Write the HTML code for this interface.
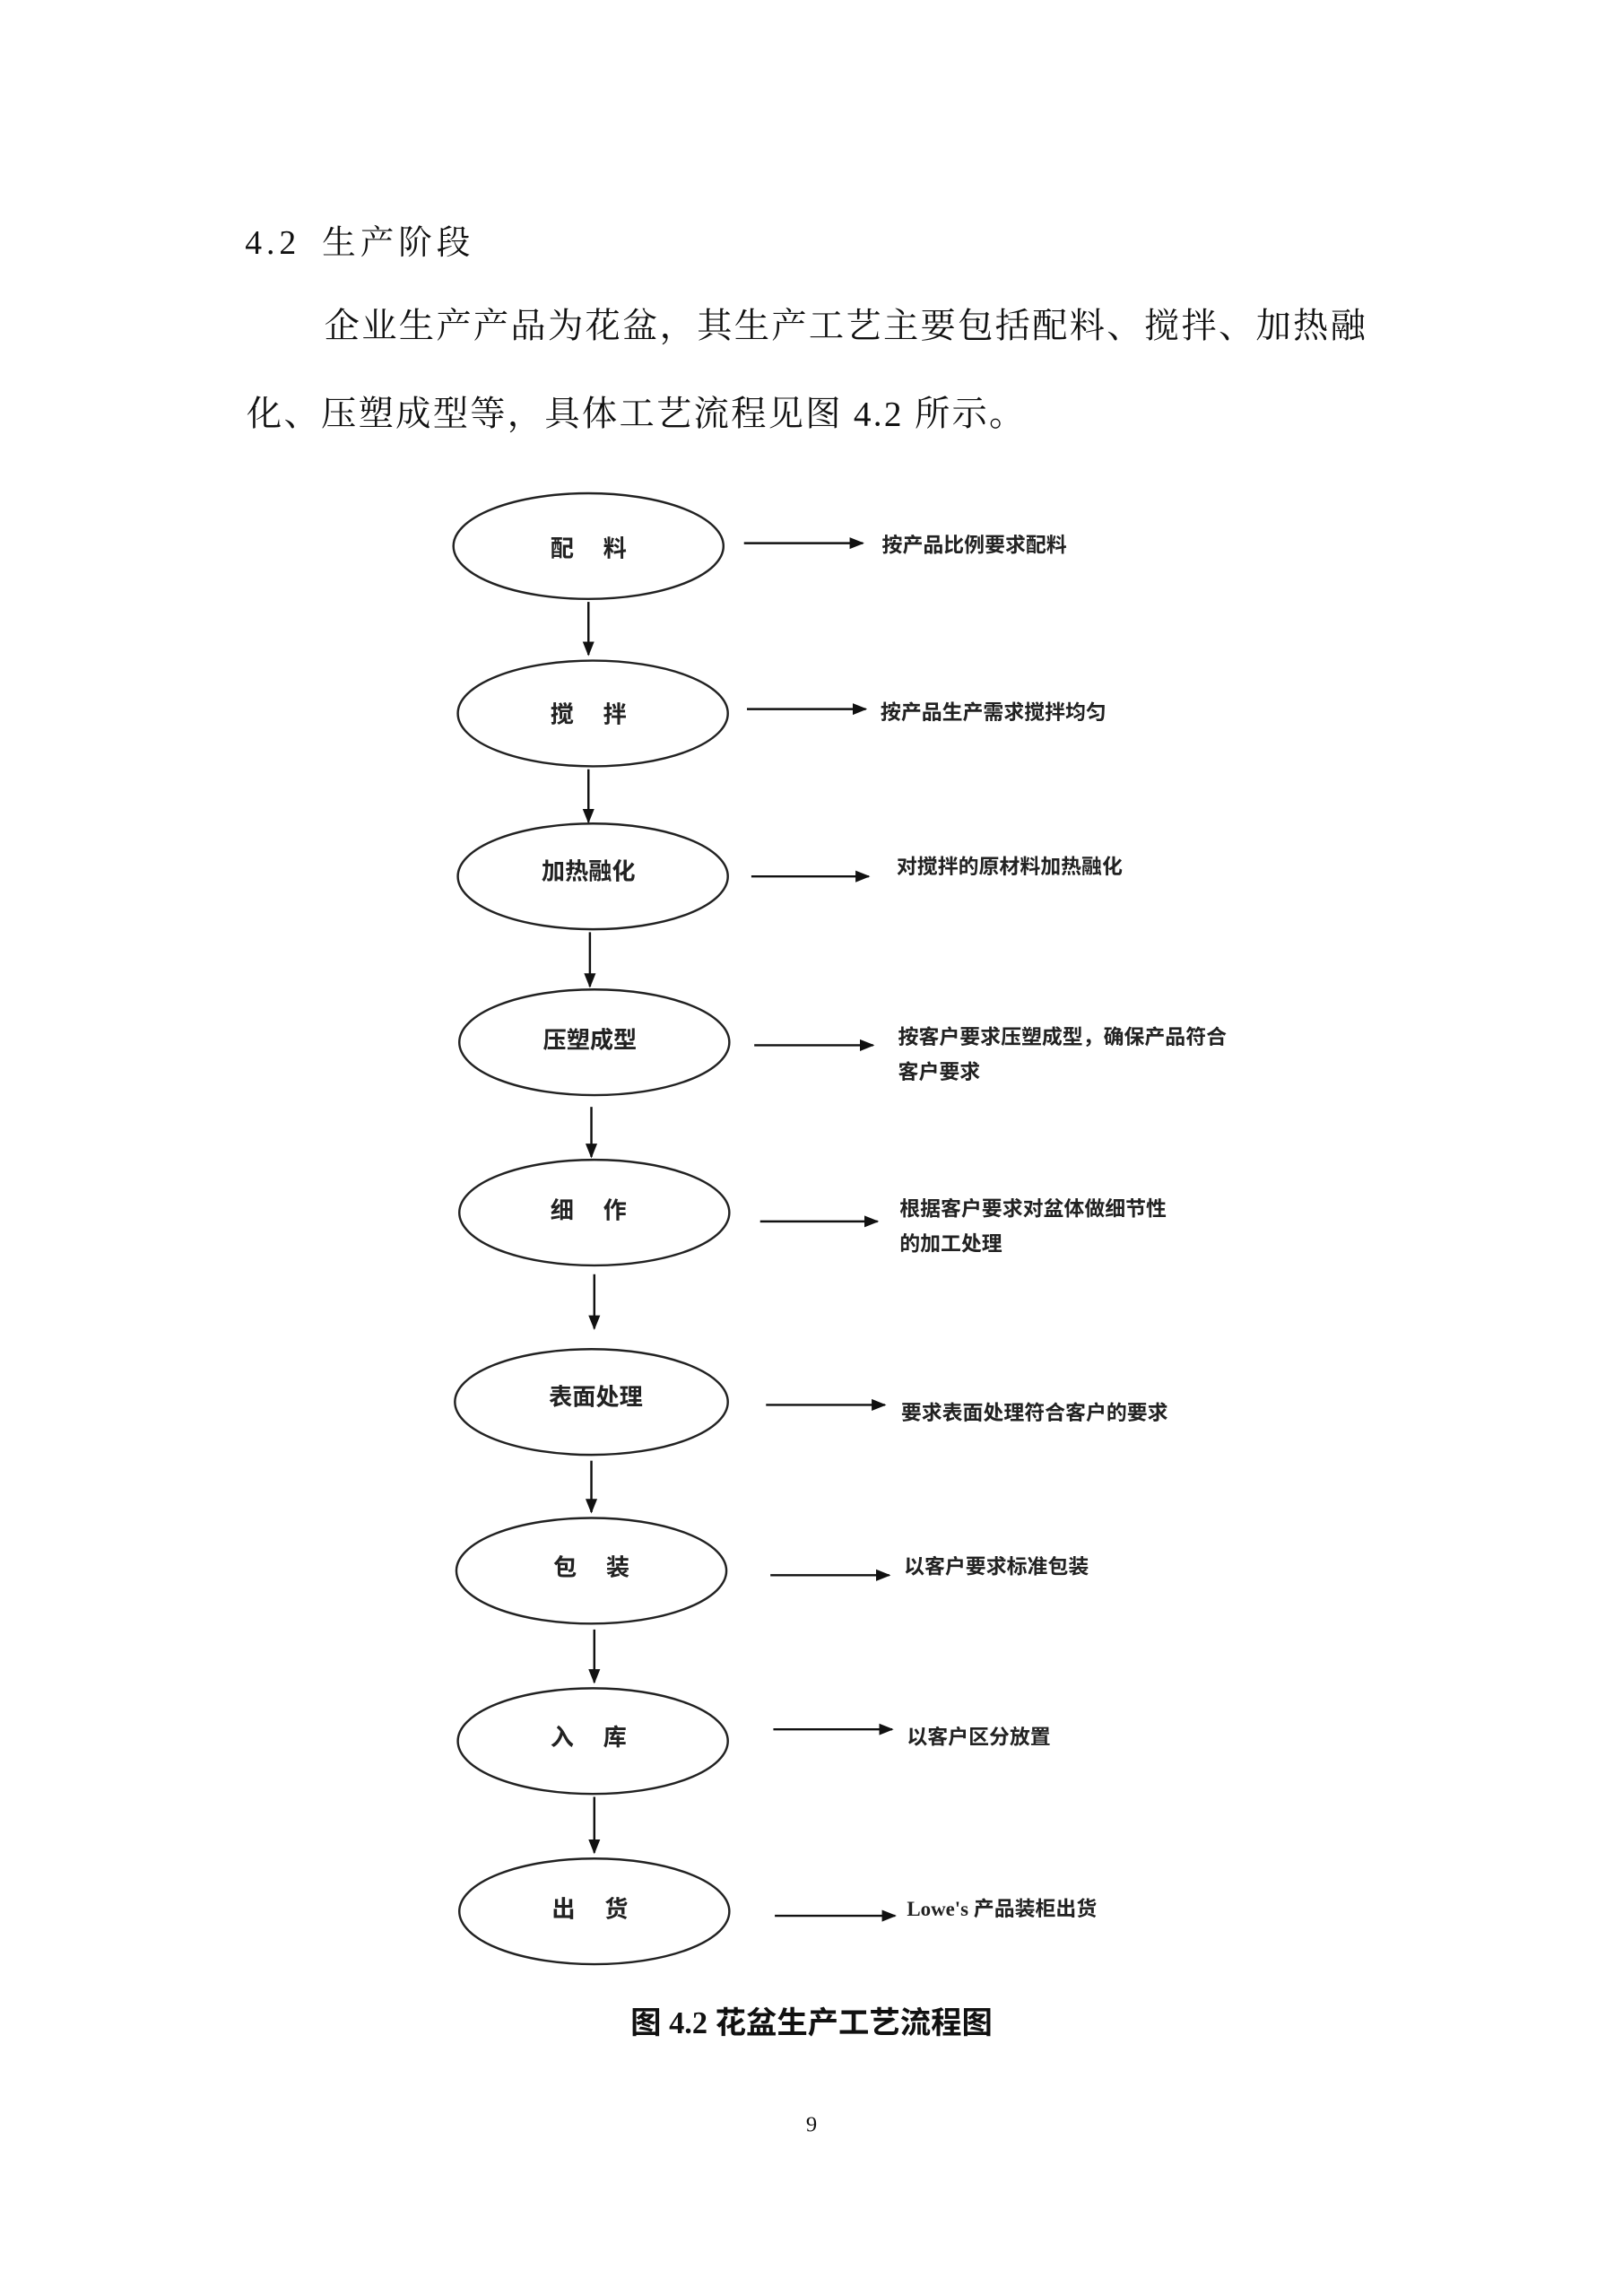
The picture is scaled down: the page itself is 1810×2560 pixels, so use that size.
<!DOCTYPE html>
<html><head><meta charset="utf-8"><style>
html,body{margin:0;padding:0;background:#fff;}
svg{display:block;}
.t{font-family:"Liberation Serif","Noto Serif CJK SC",serif;fill:#111;}
.b{font-family:"Liberation Serif","Noto Sans CJK SC",sans-serif;font-weight:bold;fill:#222;}
</style></head><body>
<svg width="1810" height="2560" viewBox="0 0 1106 1564" preserveAspectRatio="none" xmlns="http://www.w3.org/2000/svg">
<defs><marker id="a" markerWidth="10" markerHeight="10" refX="9" refY="5" orient="auto" markerUnits="userSpaceOnUse"><path d="M0,1 L10,5 L0,9 z" fill="#111"/></marker></defs>
<text class="t" x="167" y="173" font-size="23" letter-spacing="3">4.2 <tspan dx="6">生产阶段</tspan></text>
<text class="t" x="221" y="230" font-size="24" letter-spacing="1.4">企业生产产品为花盆，其生产工艺主要包括配料、搅拌、加热融</text>
<text class="t" x="168" y="290" font-size="24" letter-spacing="1.4">化、压塑成型等，具体工艺流程见图 4.2 所示。</text>
<g fill="none" stroke="#222" stroke-width="1.5">
<ellipse cx="401" cy="372" rx="92" ry="36"/>
<ellipse cx="404" cy="486" rx="92" ry="36"/>
<ellipse cx="404" cy="597" rx="92" ry="36"/>
<ellipse cx="405" cy="710" rx="92" ry="36"/>
<ellipse cx="405" cy="826" rx="92" ry="36"/>
<ellipse cx="403" cy="955" rx="93" ry="36"/>
<ellipse cx="403" cy="1070" rx="92" ry="36"/>
<ellipse cx="404" cy="1186" rx="92" ry="36"/>
<ellipse cx="405" cy="1302" rx="92" ry="36"/>
</g>
<g stroke="#111" stroke-width="1.5" marker-end="url(#a)">
<line x1="401" y1="410" x2="401" y2="446"/>
<line x1="401" y1="524" x2="401" y2="560"/>
<line x1="402" y1="635" x2="402" y2="672"/>
<line x1="403" y1="754" x2="403" y2="788"/>
<line x1="405" y1="868" x2="405" y2="905"/>
<line x1="403" y1="995" x2="403" y2="1030"/>
<line x1="405" y1="1110" x2="405" y2="1146"/>
<line x1="405" y1="1224" x2="405" y2="1262"/>
<line x1="507" y1="370" x2="588" y2="370"/>
<line x1="509" y1="483" x2="590" y2="483"/>
<line x1="512" y1="597" x2="592" y2="597"/>
<line x1="514" y1="712" x2="595" y2="712"/>
<line x1="518" y1="832" x2="598" y2="832"/>
<line x1="522" y1="957" x2="603" y2="957"/>
<line x1="525" y1="1073" x2="606" y2="1073"/>
<line x1="527" y1="1178" x2="608" y2="1178"/>
<line x1="528" y1="1305" x2="610" y2="1305"/>
</g>
<g class="b" font-size="16" text-anchor="middle">
<text x="401" y="379">配　 料</text>
<text x="401" y="492">搅　 拌</text>
<text x="401" y="599">加热融化</text>
<text x="402" y="714">压塑成型</text>
<text x="401" y="830">细　 作</text>
<text x="406" y="957">表面处理</text>
<text x="403" y="1073">包　 装</text>
<text x="401" y="1189">入　 库</text>
<text x="402" y="1306">出　 货</text>
</g>
<g class="b" font-size="14">
<text x="601" y="376">按产品比例要求配料</text>
<text x="600" y="490">按产品生产需求搅拌均匀</text>
<text x="611" y="595">对搅拌的原材料加热融化</text>
<text x="612" y="711">按客户要求压塑成型，确保产品符合</text>
<text x="612" y="735">客户要求</text>
<text x="613" y="828">根据客户要求对盆体做细节性</text>
<text x="613" y="852">的加工处理</text>
<text x="614" y="967">要求表面处理符合客户的要求</text>
<text x="616" y="1072">以客户要求标准包装</text>
<text x="618" y="1188">以客户区分放置</text>
<text x="618" y="1305">Lowe's 产品装柜出货</text>
</g>
<text class="b" x="553" y="1385" font-size="21" text-anchor="middle" style="fill:#111">图 4.2  花盆生产工艺流程图</text>
<text class="t" x="553" y="1452" font-size="15" text-anchor="middle">9</text>
</svg>
</body></html>
